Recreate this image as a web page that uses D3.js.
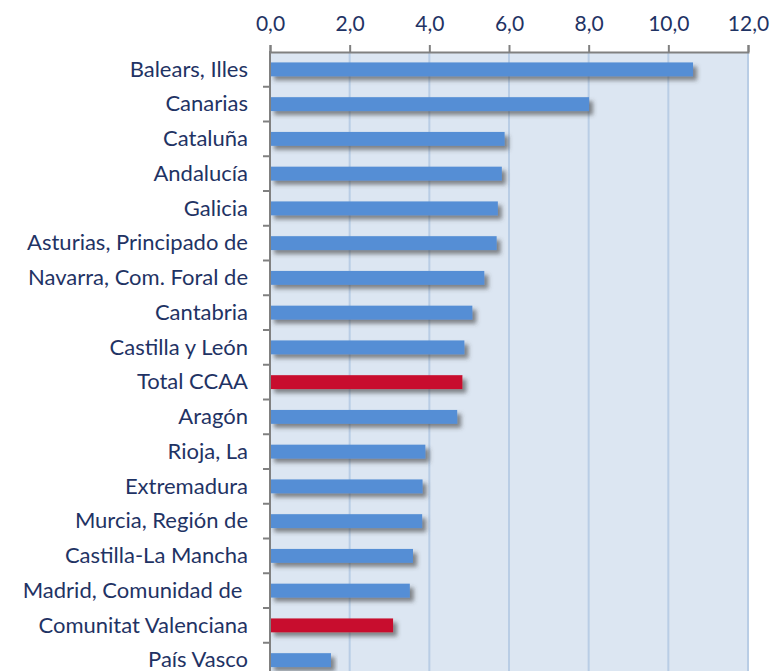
<!DOCTYPE html>
<html>
<head>
<meta charset="utf-8">
<script src="https://cdn.jsdelivr.net/npm/d3@7"></script>
<style>
  body { margin: 0; background: #fff; }
  svg { display: block; font-family: Lato, "Open Sans", sans-serif; }
</style>
</head>
<body>
<svg class="chart"></svg>
<script>
// data
let regions = ["Balears, Illes", "Canarias", "Cataluña", "Andalucía", "Galicia",
  "Asturias, Principado de", "Navarra, Com. Foral de", "Cantabria", "Castilla y León",
  "Total CCAA", "Aragón", "Rioja, La", "Extremadura", "Murcia, Región de",
  "Castilla-La Mancha", "Madrid, Comunidad de ", "Comunitat Valenciana", "País Vasco"];
let values = [10.62, 8.01, 5.89, 5.82, 5.72, 5.69, 5.38, 5.08, 4.88, 4.83, 4.70,
  3.90, 3.83, 3.82, 3.59, 3.51, 3.09, 1.53];
let highlighted = ["Total CCAA", "Comunitat Valenciana"];
let xTicks = [0, 2, 4, 6, 8, 10, 12];

//params
let chartW = 774;
let chartH = 671;
let plotLeft = 270, plotRight = 748, plotTop = 52;
let step = 34.75;
let blue = "#558ed5", red = "#c8102e", navy = "#1f3364";
//----------

let svg = d3.select(".chart").attr("width", chartW).attr("height", chartH);

let x = d3.scaleLinear().domain([0, 12]).range([plotLeft, plotRight]);
let y = d3.scaleBand().domain(regions)
  .range([plotTop, plotTop + step * regions.length])
  .paddingInner(0.6).paddingOuter(0.3);

let defs = svg.append("defs");
let f = defs.append("filter").attr("id", "shadow")
  .attr("x", "-5%").attr("y", "-50%").attr("width", "115%").attr("height", "250%");
f.append("feDropShadow").attr("dx", 4).attr("dy", 4).attr("stdDeviation", 2)
  .attr("flood-color", "#404040").attr("flood-opacity", 0.6);

// plot background
svg.append("rect")
  .attr("x", plotLeft).attr("y", plotTop)
  .attr("width", plotRight - plotLeft).attr("height", chartH - plotTop)
  .attr("fill", "#dce6f2");

// gridlines
svg.selectAll(".grid").data(xTicks.slice(1)).enter().append("line")
  .attr("class", "grid")
  .attr("x1", d => x(d)).attr("x2", d => x(d))
  .attr("y1", plotTop).attr("y2", chartH)
  .attr("stroke", "#b9cde5").attr("stroke-width", 2);

// bars
svg.selectAll(".bar").data(regions).enter().append("rect")
  .attr("class", "bar")
  .attr("x", x(0))
  .attr("y", d => y(d))
  .attr("width", (d, i) => x(values[i]) - x(0))
  .attr("height", y.bandwidth())
  .attr("fill", d => highlighted.includes(d) ? red : blue)
  .attr("filter", "url(#shadow)");

// top axis
let xAxis = d3.axisTop(x).tickValues(xTicks)
  .tickFormat(d => d3.format(".1f")(d).replace(".", ","))
  .tickSize(7).tickPadding(14);
let gx = svg.append("g").attr("transform", `translate(0,${plotTop})`).call(xAxis);
gx.select(".domain").attr("stroke", "#808080").attr("stroke-width", 2);
gx.selectAll(".tick line").attr("stroke", "#808080").attr("stroke-width", 2);
gx.selectAll(".tick text").attr("fill", navy).attr("font-size", 21)
  .attr("font-family", "Lato, 'Open Sans', sans-serif");

// left axis line and boundary ticks
svg.append("line")
  .attr("x1", plotLeft).attr("x2", plotLeft).attr("y1", plotTop - 1).attr("y2", chartH)
  .attr("stroke", "#808080").attr("stroke-width", 2);
svg.selectAll(".ytick").data(regions).enter().append("line")
  .attr("class", "ytick")
  .attr("x1", plotLeft - 7).attr("x2", plotLeft)
  .attr("y1", d => y(d) - y.step() * y.paddingOuter() + y.step())
  .attr("y2", d => y(d) - y.step() * y.paddingOuter() + y.step())
  .attr("stroke", "#808080").attr("stroke-width", 2);

// category labels
svg.selectAll(".label").data(regions).enter().append("text")
  .attr("class", "label")
  .attr("x", plotLeft - 22)
  .attr("y", d => y(d) + y.bandwidth() / 2)
  .attr("dy", "0.33em")
  .attr("text-anchor", "end")
  .attr("fill", navy).attr("font-size", 22)
  .attr("xml:space", "preserve")
  .text(d => d);
</script>
</body>
</html>
